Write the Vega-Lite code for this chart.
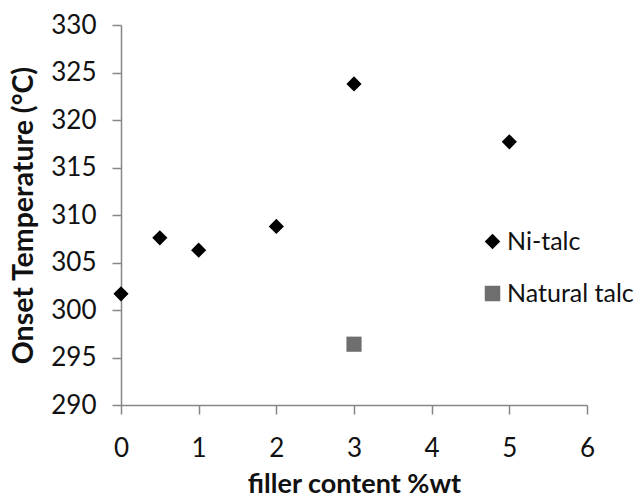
{
  "$schema": "https://vega.github.io/schema/vega-lite/v6.json",
  "width": 466,
  "height": 380,
  "autosize": "none",
  "padding": {"left": 121, "top": 25, "right": 51, "bottom": 93},
  "background": "white",
  "config": {
    "view": {"stroke": null},
    "font": "Lato",
    "axis": {
      "grid": false,
      "domainColor": "#868686",
      "domainWidth": 1.5,
      "tickColor": "#868686",
      "tickWidth": 1.5,
      "tickSize": 9,
      "labelFont": "Lato",
      "labelFontSize": 26,
      "labelColor": "#111",
      "labelFlush": false,
      "titleFont": "Lato",
      "titleFontWeight": "bold",
      "titleColor": "#111"
    }
  },
  "data": {
    "values": [
      {"filler": 0, "temp": 301.7, "series": "Ni-talc"},
      {"filler": 0.5, "temp": 307.6, "series": "Ni-talc"},
      {"filler": 1, "temp": 306.3, "series": "Ni-talc"},
      {"filler": 2, "temp": 308.8, "series": "Ni-talc"},
      {"filler": 3, "temp": 323.8, "series": "Ni-talc"},
      {"filler": 5, "temp": 317.7, "series": "Ni-talc"},
      {"filler": 3, "temp": 296.4, "series": "Natural talc"}
    ]
  },
  "mark": {"type": "point", "filled": true, "opacity": 1, "size": 230},
  "encoding": {
    "x": {
      "field": "filler",
      "type": "quantitative",
      "scale": {"domain": [0, 6], "nice": false},
      "axis": {"values": [0, 1, 2, 3, 4, 5, 6], "title": "filler content %wt", "titleFontSize": 27, "labelPadding": 21, "titleX": 233, "titleY": 79, "titleBaseline": "middle", "titleAlign": "center"}
    },
    "y": {
      "field": "temp",
      "type": "quantitative",
      "scale": {"domain": [290, 330], "nice": false, "zero": false},
      "axis": {"values": [290, 295, 300, 305, 310, 315, 320, 325, 330], "title": "Onset Temperature (°C)", "titleFontSize": 28.5, "labelPadding": 16, "titleX": -98, "titleY": 190, "titleAngle": -90, "titleBaseline": "middle", "titleAlign": "center"}
    },
    "shape": {
      "field": "series",
      "type": "nominal",
      "scale": {"domain": ["Ni-talc", "Natural talc"], "range": ["diamond", "square"]},
      "legend": {
        "title": null,
        "orient": "none",
        "legendX": 359,
        "legendY": 204,
        "labelFont": "Lato",
        "labelFontSize": 25,
        "labelColor": "#111",
        "symbolSize": 240,
        "symbolStrokeWidth": 0,
        "rowPadding": 26,
        "labelOffset": 2
      }
    },
    "color": {
      "field": "series",
      "type": "nominal",
      "scale": {"domain": ["Ni-talc", "Natural talc"], "range": ["#000000", "#6e6e6e"]},
      "legend": {
        "title": null,
        "orient": "none",
        "legendX": 359,
        "legendY": 204,
        "labelFont": "Lato",
        "labelFontSize": 25,
        "labelColor": "#111",
        "symbolSize": 240,
        "symbolStrokeWidth": 0,
        "rowPadding": 26,
        "labelOffset": 2
      }
    }
  }
}
